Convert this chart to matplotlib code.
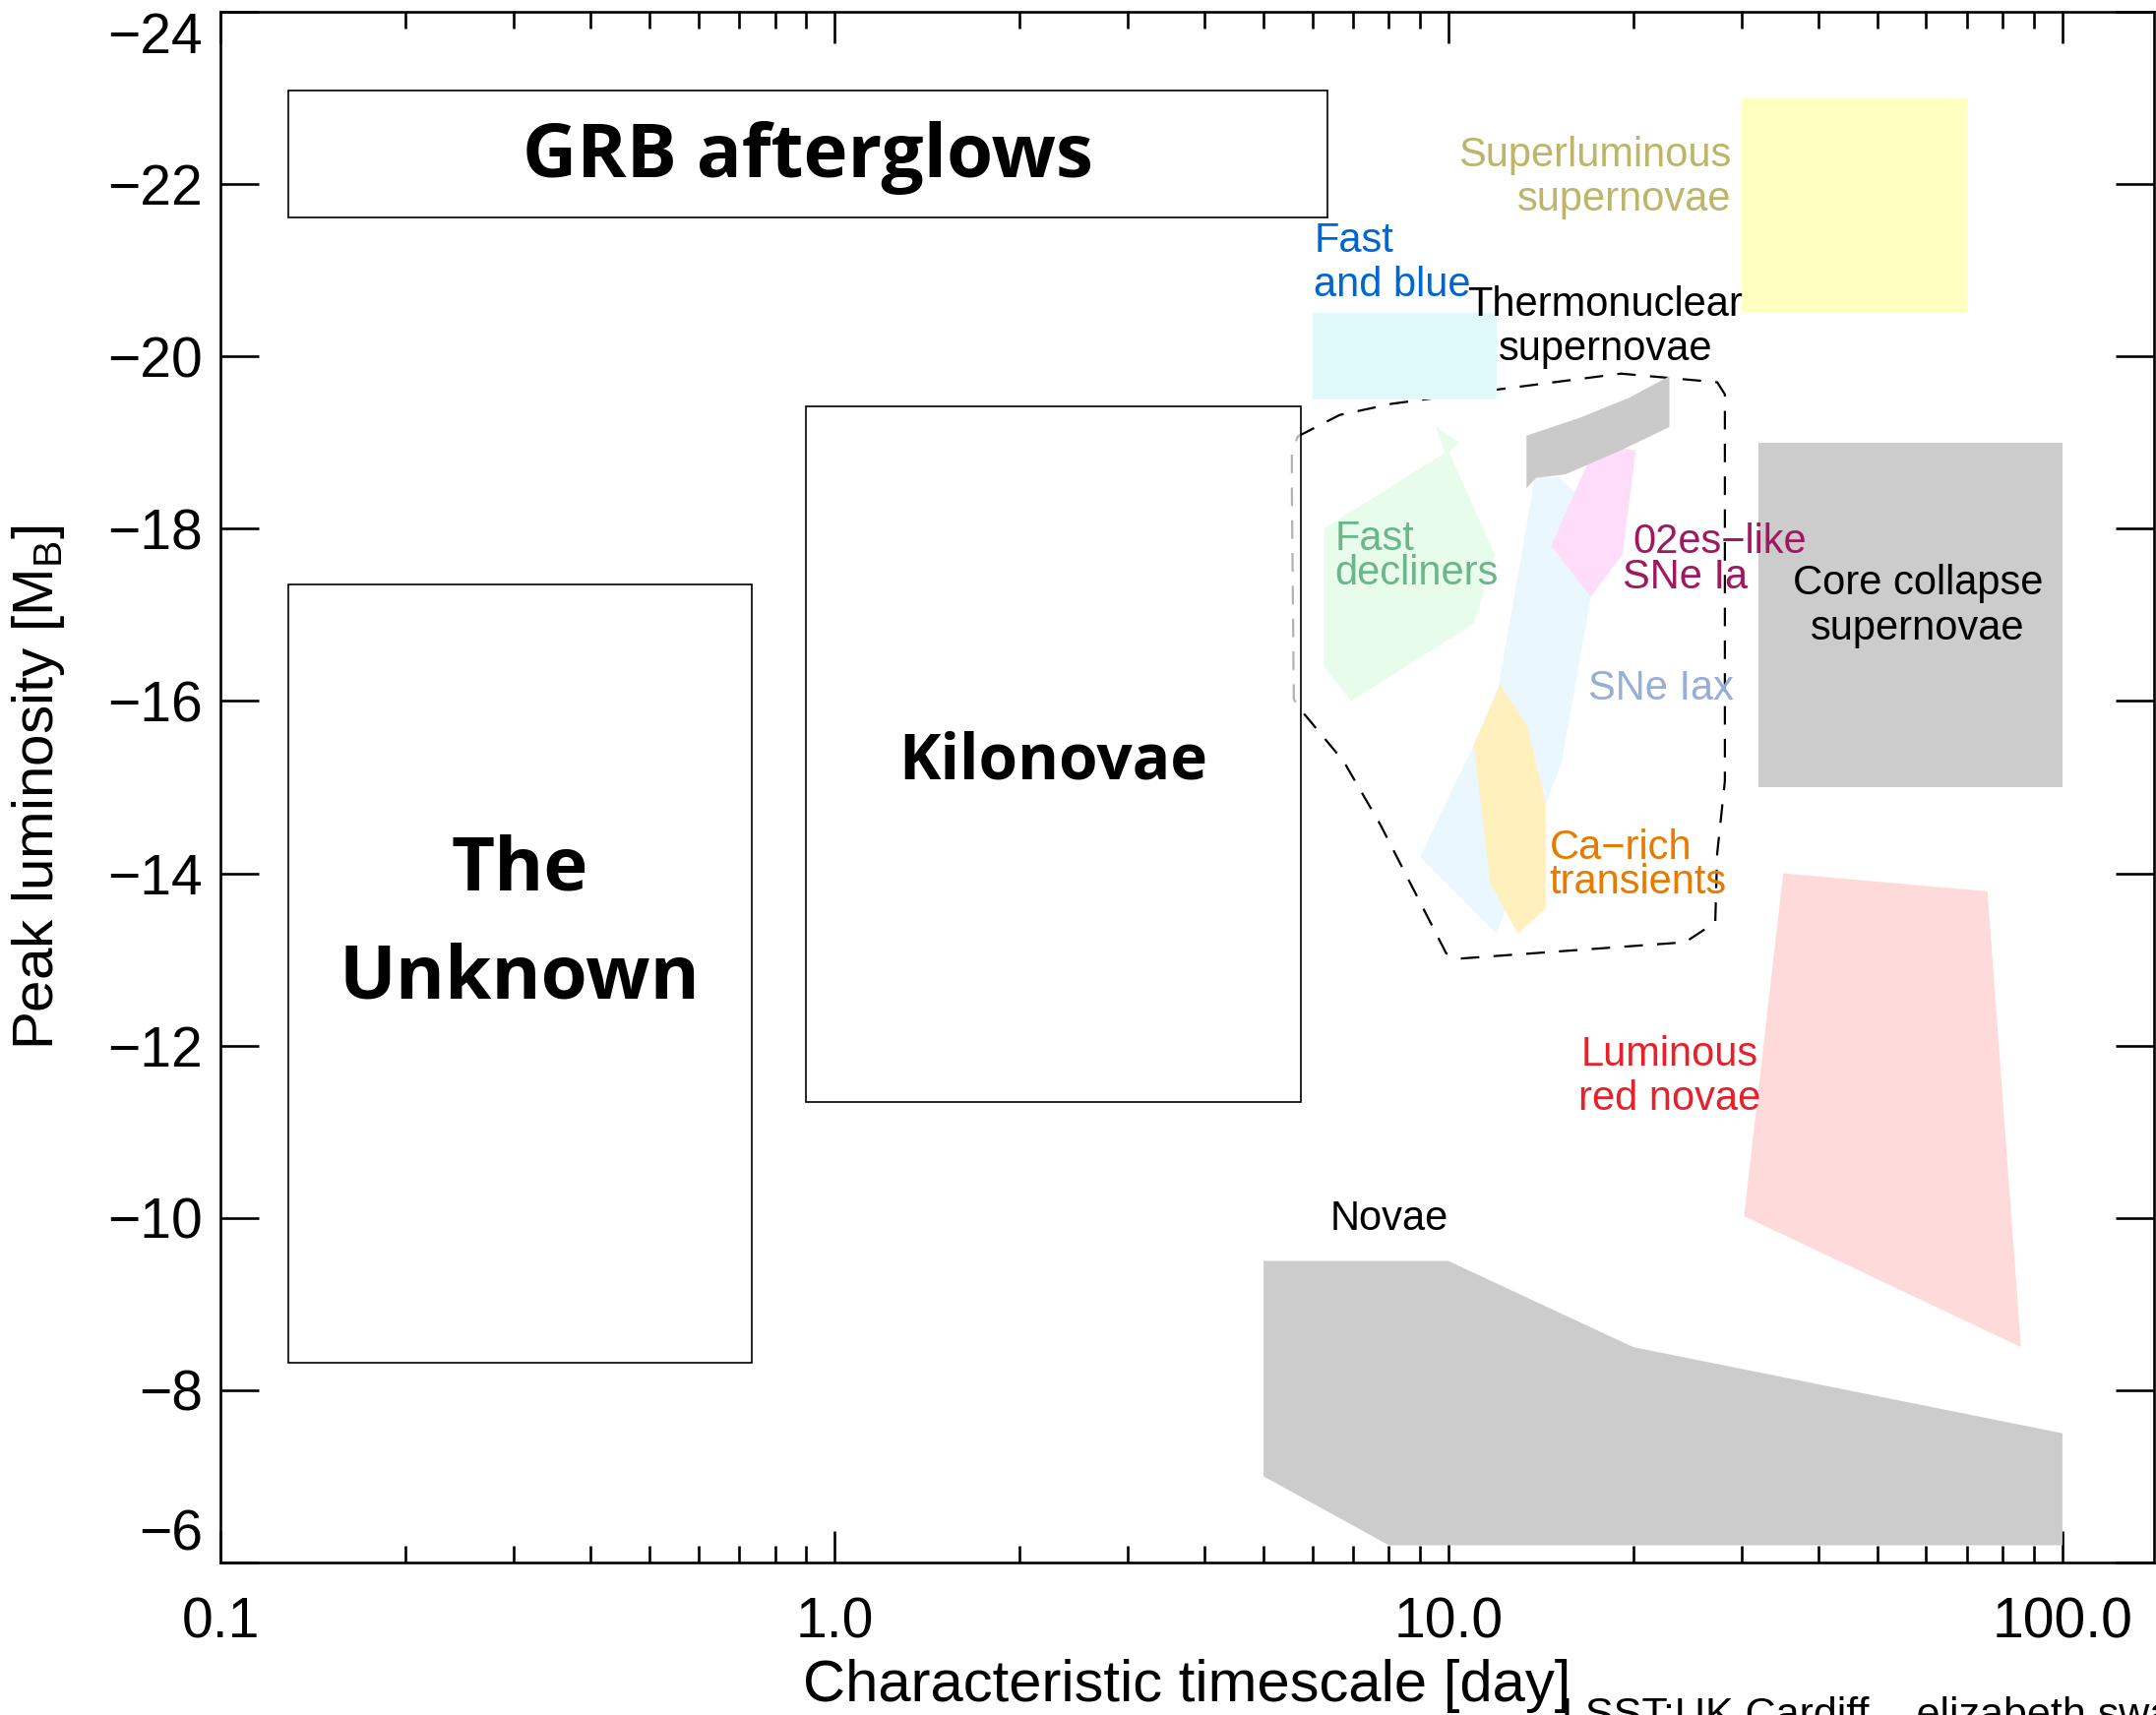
import matplotlib
matplotlib.use('Agg')
import matplotlib.pyplot as plt
import numpy as np
from matplotlib.ticker import LogLocator, NullFormatter, NullLocator

plt.rcParams['font.family'] = ['Liberation Sans', 'DejaVu Sans']
plt.rcParams['mathtext.fontset'] = 'custom'
plt.rcParams['mathtext.rm'] = 'Liberation Sans'
plt.rcParams['mathtext.it'] = 'Liberation Sans'

# outlined boxes: t0, t1, M0, M1  (timescale [day], peak magnitude)
grb_box = [0.129, 6.36, -23.09, -21.61]
unknown_box = [0.129, 0.733, -17.35, -8.32]
kilonova_box = [0.90, 5.74, -19.42, -11.34]

# filled rectangles
slsn_box = [30, 70, -23.0, -20.5]
fastblue_box = [6, 12, -20.5, -19.5]
ccsn_box = [32, 100, -19.0, -15.0]

# filled polygons
iax_t = [13.8, 15.1, 16.2, 17.05, 15.3, 14.4, 11.97, 8.99, 11.0, 12.06, 13.7]
iax_m = [-18.59, -18.60, -18.40, -17.20, -15.30, -14.80, -13.30, -14.19, -15.49, -16.17, -18.42]

ca_t = [12.15, 13.46, 14.4, 14.4, 12.97, 11.7, 11.0]
ca_m = [-16.19, -15.70, -14.80, -13.59, -13.30, -13.89, -15.49]

es_t = [17.4, 20.2, 19.2, 17.05, 14.7]
es_m = [-18.98, -18.91, -17.70, -17.21, -17.80]

ia_t = [13.4, 16.4, 19.7, 22.9, 22.9, 19.1, 15.5, 13.9, 13.4]
ia_m = [-19.08, -19.29, -19.52, -19.77, -19.18, -18.91, -18.63, -18.59, -18.47]

fd_t = [6.27, 9.87, 9.55, 10.45, 10.02, 11.9, 11.0, 6.94, 6.27]
fd_m = [-18.0, -18.88, -19.18, -19.0, -18.89, -17.70, -16.90, -16.0, -16.40]

lrn_t = [35.1, 75.5, 85.6, 30.3]
lrn_m = [-14.0, -13.79, -8.50, -10.02]

nova_t = [5, 10, 20, 100, 100, 8, 5]
nova_m = [-9.5, -9.5, -8.5, -7.5, -6.2, -6.2, -7.0]

# dashed envelope of thermonuclear supernovae
env_t = [5.68, 6.65, 8.09, 12.16, 19.1, 27.4, 28.2, 28.2, 27.4, 27.2, 24.3,
         10.45, 9.92, 7.74, 6.75, 5.79, 5.60, 5.56, 5.56, 5.68]
env_m = [-19.07, -19.32, -19.45, -19.62, -19.80, -19.70, -19.56, -15.07, -14.23,
         -13.43, -13.20, -13.01, -13.07, -14.57, -15.30, -15.87, -16.02, -18.42,
         -18.87, -19.07]

xticks = [0.1, 1, 10, 100]
xticklabels = ['0.1', '1.0', '10.0', '100.0']
yticks = list(range(-24, -5, 2))


def box(b):
    return [b[0], b[1], b[1], b[0]], [b[2], b[2], b[3], b[3]]


fig = plt.figure(figsize=(21.91, 17.43), dpi=100)
ax = fig.add_axes([0.10224, 0.08893, 0.89685, 0.90419])
ax.set_xscale('log')
ax.set_xlim(0.1, 141)
ax.set_ylim(-6, -24)

# envelope first, the coloured patches sit on top of it
ax.plot(env_t, env_m, color='k', lw=1.6, dashes=(8.5, 6.5), zorder=1)

ax.fill(iax_t, iax_m, color='#EBF7FF', lw=0, zorder=2)
ax.fill(ca_t, ca_m, color='#FFF0BE', lw=0, zorder=2)
ax.fill(es_t, es_m, color='#FFDCFA', lw=0, zorder=2)
ax.fill(ia_t, ia_m, color='#CACACA', lw=0, zorder=2)
ax.fill(fd_t, fd_m, color='#E8FCEC', lw=0, zorder=2)
ax.fill(lrn_t, lrn_m, color='#FFDADA', lw=0, zorder=2)
ax.fill(nova_t, nova_m, color='#CCCCCC', lw=0, zorder=2)
ax.fill(*box(slsn_box), color='#FFFFC0', lw=0, zorder=2)
ax.fill(*box(fastblue_box), color='#E0FAFC', lw=0, zorder=2)
ax.fill(*box(ccsn_box), color='#CCCCCC', lw=0, zorder=2)

ax.fill(*box(grb_box), facecolor='none', edgecolor='k', lw=1.2, zorder=3)
ax.fill(*box(unknown_box), facecolor='none', edgecolor='k', lw=1.2, zorder=3)
ax.fill(*box(kilonova_box), facecolor=(1, 1, 1, 0.7), edgecolor='k', lw=1.2, zorder=3)

bold = dict(family=['Open Sans', 'DejaVu Sans'], fontweight='bold', ha='center',
            va='center', color='k', zorder=4)
ax.text(0.905, -22.30, 'GRB afterglows', fontsize=55, **bold)
ax.text(0.307, -13.40, 'The\nUnknown', fontsize=55, linespacing=1.6, **bold)
ax.text(2.27, -15.28, 'Kilonovae', fontsize=46, **bold)

lab = dict(fontsize=30, va='center', zorder=4)
ax.text(28.9, -22.08, 'Superluminous\nsupernovae', ha='right', color='#BDB66A',
        linespacing=1.16, **lab)
ax.text(6.04, -21.08, 'Fast\nand blue', ha='left', color='#0066D0', linespacing=1.16, **lab)
ax.text(18.0, -20.34, 'Thermonuclear\nsupernovae', ha='center', color='k',
        linespacing=1.16, **lab)
ax.text(6.53, -17.68, 'Fast\ndecliners', ha='left', color='#6CB68A', linespacing=0.85, **lab)
ax.text(20.0, -17.84, '02es\u2212like', ha='left', color='#A0195F', **lab)
ax.text(19.2, -17.43, 'SNe Ia', ha='left', color='#A0195F', **lab)
ax.text(16.9, -16.14, 'SNe Iax', ha='left', color='#96AED8', **lab)
ax.text(14.6, -14.09, 'Ca\u2212rich\ntransients', ha='left', color='#E87A00',
        linespacing=0.85, **lab)
ax.text(58.1, -17.10, 'Core collapse\nsupernovae', ha='center', color='k',
        linespacing=1.18, **lab)
ax.text(22.9, -11.64, 'Luminous\nred novae', ha='center', color='#E8202A',
        linespacing=1.16, **lab)
ax.text(8.0, -9.99, 'Novae', ha='center', color='k', **lab)

ax.set_xticks(xticks, labels=xticklabels)
ax.set_yticks(yticks)
ax.xaxis.set_minor_locator(LogLocator(base=10, subs=np.arange(2, 10)))
ax.xaxis.set_minor_formatter(NullFormatter())
ax.yaxis.set_minor_locator(NullLocator())

ax.tick_params(which='both', direction='in', top=True, right=True, width=1.9)
ax.tick_params(axis='x', which='major', length=23, pad=25, labelsize=41)
ax.tick_params(axis='x', which='minor', length=12)
ax.tick_params(axis='y', which='major', length=28, pad=13, labelsize=41)
for s in ax.spines.values():
    s.set_linewidth(1.9)

# end labels of the magnitude axis are pulled inside the frame, as in the original
ylabs = ax.get_yticklabels()
ylabs[0].set_va('top')
ylabs[-1].set_va('bottom')

ax.set_xlabel('Characteristic timescale [day]', fontsize=43, labelpad=7)
ax.set_ylabel('Peak luminosity [M$_{\\rm B}$]', fontsize=42, labelpad=30)

fig.text(0.7243, 0.0109, 'LSST:UK Cardiff \u2013 elizabeth swann', fontsize=31,
         ha='left', va='top')

fig.savefig('out.png', dpi=100)
